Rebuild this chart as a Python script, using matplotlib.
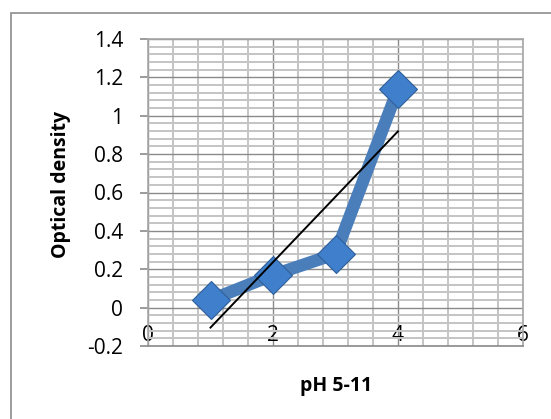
import matplotlib.pyplot as plt
import numpy as np
from matplotlib.patches import Rectangle
from matplotlib.ticker import MultipleLocator

x = [1, 2, 3, 4]
od = [0.04, 0.17, 0.28, 1.14]
xticks = [0, 2, 4, 6]
yticks = [-0.2, 0, 0.2, 0.4, 0.6, 0.8, 1, 1.2, 1.4]
ylabels = ['-0.2', '0', '0.2', '0.4', '0.6', '0.8', '1', '1.2', '1.4']

plt.rcParams['font.family'] = ['Open Sans', 'DejaVu Sans']

W, H = 551, 419
fig = plt.figure(figsize=(W / 100, H / 100), dpi=100)
fig.patches.append(Rectangle((11 / W, -0.1), 1.2, (419 - 13) / H + 0.1,
                             transform=fig.transFigure, fill=False,
                             edgecolor='#8c8c8c', lw=1.2, zorder=0))

ax = fig.add_axes([148 / W, (H - 346) / H, 375 / W, 307 / H])
ax.set_xlim(0, 6)
ax.set_ylim(-0.2, 1.4)

ax.xaxis.set_minor_locator(MultipleLocator(0.4))
ax.yaxis.set_minor_locator(MultipleLocator(0.04))
ax.grid(which='minor', color='#c4c4c4', lw=1.4, zorder=0)
ax.grid(which='major', color='#8a8a8a', lw=1.0, zorder=0)
ax.set_axisbelow(True)

for s in ['top', 'right', 'left']:
    ax.spines[s].set_color('#a6a6a6')
    ax.spines[s].set_linewidth(1.2)
ax.spines['bottom'].set_color('#8a8a8a')
ax.spines['bottom'].set_linewidth(1.2)

ax.set_xticks(xticks)
ax.set_xticklabels([str(v) for v in xticks])
ax.set_yticks(yticks)
ax.set_yticklabels(ylabels)
ax.tick_params(axis='x', which='both', length=0, pad=-15, labelsize=15)
ax.tick_params(axis='y', which='major', length=6, color='#8a8a8a', width=1.2,
               pad=12, labelsize=15)
ax.tick_params(axis='y', which='minor', length=0)

# data series
ax.plot(x, od, color='#4a7ebb', lw=9, solid_joinstyle='miter', zorder=3,
        marker='D', markersize=19, markerfacecolor='#3f7fcc',
        markeredgecolor='#2f5f99', markeredgewidth=0.8)

# linear trendline
k, b = np.polyfit(x, od, 1)
xt = np.array([x[0], x[-1]])
ax.plot(xt, k * xt + b, color='black', lw=1.4, zorder=4)

fig.text(61 / W, 1 - 184 / H, 'Optical density', rotation=90, fontsize=14,
         fontweight='bold', ha='center', va='center')
fig.text(336 / W, 1 - 386 / H, 'pH 5-11', fontsize=14, fontweight='bold',
         ha='center', va='center')

fig.savefig('out.png', dpi=100)
